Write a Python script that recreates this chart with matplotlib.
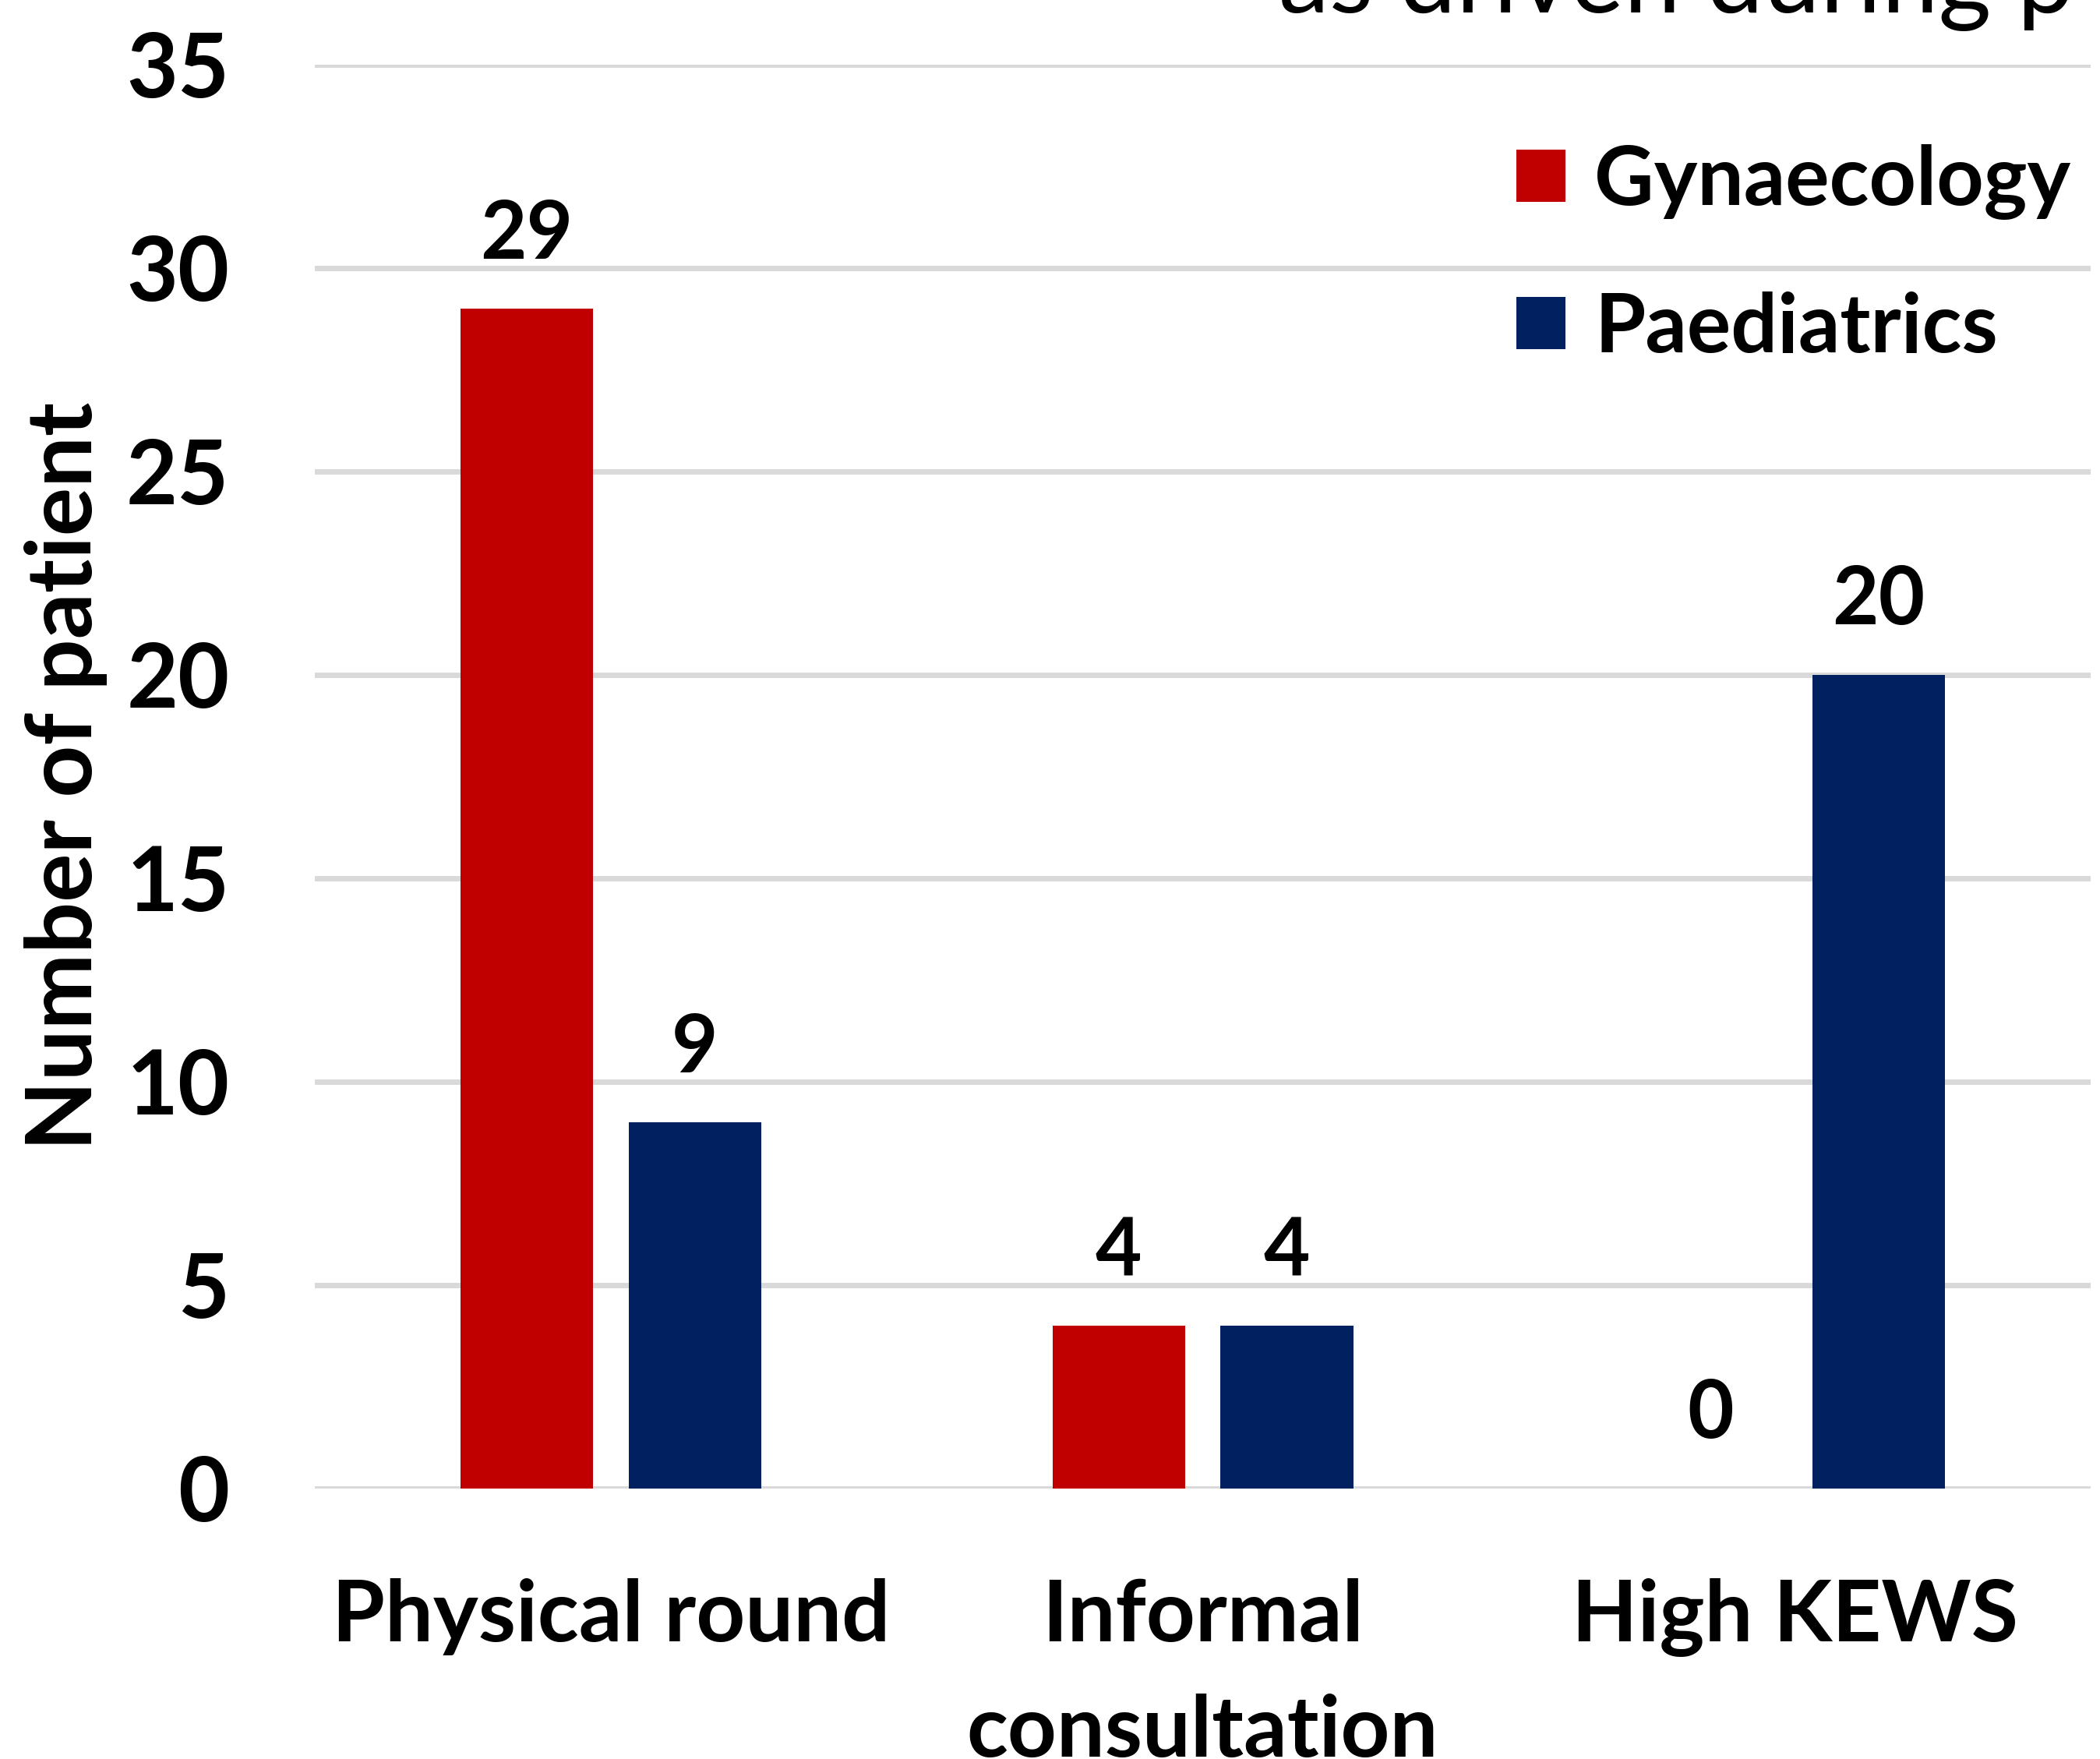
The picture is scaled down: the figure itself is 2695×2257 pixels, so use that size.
import matplotlib
matplotlib.use("Agg")
import matplotlib.pyplot as plt
import numpy as np

plt.rcParams['font.family'] = ['Lato', 'DejaVu Sans']

categories = ['Physical round', 'Informal\nconsultation', 'High KEWS']
gynaecology = [29, 4, 0]
paediatrics = [9, 4, 20]
series_names = ['Gynaecology', 'Paediatrics']
yticks = [0, 5, 10, 15, 20, 25, 30, 35]

red = '#C00000'
navy = '#002060'
grid_col = '#D9D9D9'

fig = plt.figure(figsize=(26.95, 22.57), dpi=100)
ax = fig.add_axes([0.1499, 0.1539, 0.8457, 0.8095])

x = np.arange(len(categories))
w = 0.224
off = 0.142
b1 = ax.bar(x - off, gynaecology, w, color=red, label=series_names[0], zorder=3)
b2 = ax.bar(x + off, paediatrics, w, color=navy, label=series_names[1], zorder=3)

ax.bar_label(b1, padding=34, fontsize=74, fontweight='bold')
ax.bar_label(b2, padding=34, fontsize=74, fontweight='bold')

ax.set_xlim(-0.5, 2.5)
ax.set_ylim(0, 35)
ax.set_yticks(yticks)
ax.set_yticklabels([str(v) for v in yticks], fontsize=82, fontweight='bold')
ax.set_xticks(x)
ax.set_xticklabels(categories, fontsize=79, fontweight='bold', linespacing=1.6)
ax.tick_params(axis='y', length=0, pad=79)
ax.tick_params(axis='x', length=0, pad=83)

ax.grid(axis='y', color=grid_col, linewidth=5, zorder=0)
for s in ['top', 'right', 'left', 'bottom']:
    ax.spines[s].set_visible(False)

ax.set_ylabel('Number of patient', fontsize=84, fontweight='bold')
ax.yaxis.set_label_coords(-0.1168, 0.5)

leg = ax.legend(loc='upper left', bbox_to_anchor=(1946 / 2695, 1 - 185 / 2257),
                bbox_transform=fig.transFigure, frameon=False,
                prop={'size': 76, 'weight': 'bold'},
                handlelength=0.6, handleheight=0.6, handletextpad=0.35,
                labelspacing=0.87, borderaxespad=0, borderpad=0)

# title is cut off at the top of the picture
fig.text(1641 / 2695, 1 - 16 / 2257, 'as driven during p', fontsize=94,
         ha='left', va='baseline')

fig.savefig('out.png', dpi=100)
